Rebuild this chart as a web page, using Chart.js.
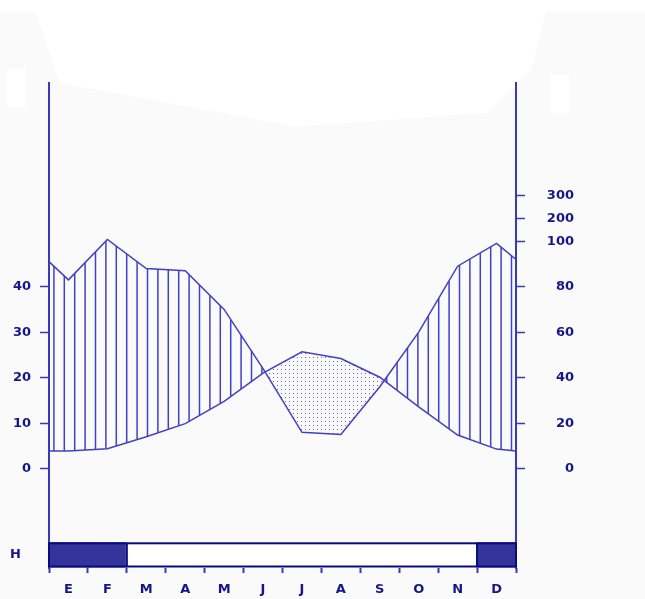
<!DOCTYPE html>
<html>
<head>
<meta charset="utf-8">
<script src="https://cdn.jsdelivr.net/npm/chart.js@4.4.1/dist/chart.umd.min.js"></script>
<style>
  html, body { margin: 0; padding: 0; overflow: hidden; background: #fafafa; }
  canvas { display: block; }
</style>
</head>
<body>
<canvas id="myChart" width="645" height="599"></canvas>
<script>
var meses = ['E', 'F', 'M', 'A', 'M', 'J', 'J', 'A', 'S', 'O', 'N', 'D'];
var temperatura = [3.9, 4.4, 7.0, 9.9, 14.8, 21.0, 25.7, 24.2, 20.1, 13.6, 7.4, 4.3];
var tempBordes = [3.9, 3.9];          // valor en el borde izquierdo / derecho
var precipitacion = [83, 108, 88, 87, 70, 44, 16, 15, 36, 60, 89, 99];
var precBordes = [91, 92];
var heladas = [1, 1, 0, 0, 0, 0, 0, 0, 0, 0, 0, 1];   // H
var ticksTemp = [0, 10, 20, 30, 40];
var ticksPrec = [0, 20, 40, 60, 80, 100, 200, 300];

var azul = '#4040c8';
var azulEje = '#3838b8';
var marco = '#0a0a80';
var texto = '#16168c';

// escala de precipitacion: 2 mm = 1 grado hasta 100, luego comprimida
function precAEscala(p) {
    return p <= 100 ? p / 2 : 50 + (p - 100) / 20;
}

function serie(valores, bordes, conv) {
    var pts = [{x: 0, y: conv(bordes[0])}];
    valores.forEach(function (v, i) { pts.push({x: i + 0.5, y: conv(v)}); });
    pts.push({x: 12, y: conv(bordes[1])});
    return pts;
}

var ctx = document.getElementById('myChart').getContext('2d');

// tramas
var c1 = document.createElement('canvas');
c1.width = 52; c1.height = 8;
var g1 = c1.getContext('2d');
g1.strokeStyle = azul;
g1.lineWidth = 1.5;
for (var i = 0; i < 5; i++) {
    var hx = 1.9 + i * 10.4;
    g1.beginPath(); g1.moveTo(hx, 0); g1.lineTo(hx, 8); g1.stroke();
}
var rayado = ctx.createPattern(c1, 'repeat');

var c2 = document.createElement('canvas');
c2.width = 4; c2.height = 4;
var g2 = c2.getContext('2d');
g2.fillStyle = '#6262d4';
g2.fillRect(1, 1, 1, 1);
var punteado = ctx.createPattern(c2, 'repeat');

var yMin = -21.83, yMax = 84.77;
var bandaH = [-21.5, -16.4];

var fondo = {
    id: 'fondo',
    beforeDraw: function (chart) {
        var c = chart.ctx;
        c.save();
        c.fillStyle = '#fafafa';
        c.fillRect(0, 0, chart.width, chart.height);
        c.fillStyle = '#ffffff';
        c.fillRect(0, 0, chart.width, 12);
        c.beginPath();
        c.moveTo(35.8, 12); c.lineTo(59.6, 82.7); c.lineTo(296, 126.7);
        c.lineTo(487.5, 112.7); c.lineTo(531.5, 68.7); c.lineTo(545.8, 12);
        c.closePath();
        c.fill();
        c.fillRect(7.4, 69, 18.5, 38.3);
        c.fillRect(550.4, 75, 18.5, 37.7);
        c.restore();
    },
    afterDatasetsDraw: function (chart) {
        // marco de la banda de heladas
        var c = chart.ctx, xs = chart.scales.x, ys = chart.scales.y;
        var y0 = ys.getPixelForValue(bandaH[1]), y1 = ys.getPixelForValue(bandaH[0]);
        c.save();
        c.strokeStyle = marco;
        c.lineWidth = 2;
        c.strokeRect(xs.getPixelForValue(0), y0, xs.getPixelForValue(12) - xs.getPixelForValue(0), y1 - y0);
        for (var m = 1; m < 12; m++) {
            if (heladas[m] !== heladas[m - 1]) {
                var px = xs.getPixelForValue(m);
                c.beginPath(); c.moveTo(px, y0); c.lineTo(px, y1); c.stroke();
            }
        }
        c.restore();
    },
    afterDraw: function (chart) {
        var c = chart.ctx;
        var y = chart.scales.y.getPixelForValue((bandaH[0] + bandaH[1]) / 2);
        c.save();
        c.fillStyle = texto;
        c.font = 'bold 13px "DejaVu Sans"';
        c.textAlign = 'center';
        c.textBaseline = 'middle';
        c.fillText('H', 15.5, y);
        c.restore();
    }
};

var fuente = {family: '"DejaVu Sans"', weight: 'bold', size: 13};

var graphData = {
    type: 'line',
    data: {
        datasets: [{
            label: 'Temperatura',
            data: serie(temperatura, tempBordes, function (v) { return v; }),
            borderColor: azul,
            borderWidth: 1.5,
            pointRadius: 0,
            fill: false
        }, {
            label: 'Precipitacion',
            data: serie(precipitacion, precBordes, precAEscala),
            borderColor: azul,
            borderWidth: 1.5,
            pointRadius: 0,
            fill: {target: 0, above: rayado, below: punteado}
        }, {
            type: 'bar',
            label: 'H',
            xAxisID: 'xb',
            data: heladas.map(function (h, i) { return {x: i + 0.5, y: bandaH}; }),
            backgroundColor: heladas.map(function (h) { return h ? '#333399' : '#ffffff'; }),
            borderWidth: 0,
            inflateAmount: 1,
            barPercentage: 1,
            categoryPercentage: 1,
            grouped: false
        }]
    },
    options: {
        responsive: false,
        animation: false,
        layout: {padding: {top: 83, right: 71, left: 0, bottom: 0}},
        plugins: {legend: {display: false}, tooltip: {enabled: false}},
        scales: {
            x: {
                type: 'linear', min: 0, max: 12, offset: false,
                afterBuildTicks: function (s) {
                    var t = [];
                    for (var k = 0; k <= 24; k++) t.push({value: k / 2});
                    s.ticks = t;
                },
                afterFit: function (s) { s.height = 31; },
                border: {display: false},
                grid: {
                    drawOnChartArea: false, tickLength: 5, tickWidth: 2,
                    tickColor: function (c) { return c.tick && c.tick.value % 1 === 0 ? azulEje : 'rgba(0,0,0,0)'; }
                },
                ticks: {
                    autoSkip: false, maxRotation: 0, padding: 9, color: texto, font: fuente,
                    callback: function (v) { return v % 1 === 0.5 ? meses[Math.floor(v)] : ''; }
                }
            },
            xb: {
                type: 'linear', min: 0, max: 12, offset: false, display: false,
                ticks: {stepSize: 1}
            },
            y: {
                position: 'left', min: yMin, max: yMax,
                afterBuildTicks: function (s) { s.ticks = ticksTemp.map(function (v) { return {value: v}; }); },
                afterFit: function (s) { s.width = 49; },
                border: {display: true, color: azulEje, width: 2},
                grid: {drawOnChartArea: false, tickLength: 9, tickWidth: 1.5, tickColor: azulEje},
                ticks: {padding: 9, color: texto, font: fuente}
            },
            y2: {
                position: 'right', min: yMin, max: yMax,
                afterBuildTicks: function (s) { s.ticks = ticksPrec.map(function (v) { return {value: precAEscala(v)}; }); },
                afterFit: function (s) { s.width = 58; },
                border: {display: true, color: azulEje, width: 2},
                grid: {drawOnChartArea: false, tickLength: 9, tickWidth: 1.5, tickColor: azulEje},
                ticks: {
                    crossAlign: 'far', color: texto, font: fuente,
                    callback: function (v, i) { return String(ticksPrec[i]); }
                }
            }
        }
    },
    plugins: [fondo]
};

var myChart2 = new Chart(ctx, graphData);
</script>
</body>
</html>
